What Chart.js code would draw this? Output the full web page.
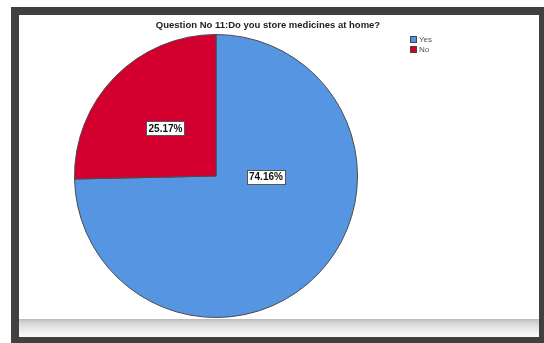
<!DOCTYPE html>
<html>
<head>
<meta charset="utf-8">
<script src="https://cdn.jsdelivr.net/npm/chart.js@4.4.1/dist/chart.umd.min.js"></script>
<style>
  body { margin: 0; background: #fff; }
  #frame { position: absolute; left: 11px; top: 7px; width: 533px; height: 336px; background: #404040; }
  #inner { position: absolute; left: 19px; top: 15px; width: 520px; height: 322px; background: #fff; }
  #shade { position: absolute; left: 0; top: 304px; width: 520px; height: 18px;
    background: linear-gradient(to bottom, #b8b8b8 0%, #cfcfcf 15%, #dedede 35%, #f0f0f0 70%, #fafafa 100%); }
  #wrap { position: absolute; left: 0; top: 0; width: 520px; height: 304px; }
</style>
</head>
<body>
<div id="frame"></div>
<div id="inner">
  <div id="wrap"><canvas id="pie"></canvas></div>
  <div id="shade"></div>
</div>
<script>
const categories = ['Yes', 'No'];
const percents = [74.16, 25.17];
const sliceColors = ['#5595e2', '#d3002f'];
const titleText = 'Question No 11:Do you store medicines at home?';

// draws title, legend and boxed percentage labels
const decor = {
  id: 'decor',
  afterDraw(chart, args, opts) {
    const ctx = chart.ctx;
    ctx.save();
    // title
    ctx.font = 'bold 9.5px "Liberation Sans", Arial, sans-serif';
    ctx.fillStyle = '#222';
    ctx.textAlign = 'center';
    ctx.textBaseline = 'middle';
    ctx.fillText(titleText, 249, 10.5);

    // legend
    ctx.font = '8px "Liberation Sans", Arial, sans-serif';
    ctx.textAlign = 'left';
    categories.forEach((c, i) => {
      const y = 21 + i * 10;
      ctx.fillStyle = sliceColors[i];
      ctx.fillRect(391, y, 7, 7);
      ctx.strokeStyle = '#444';
      ctx.lineWidth = 1;
      ctx.strokeRect(391.5, y + 0.5, 6, 6);
      ctx.fillStyle = '#555';
      ctx.fillText(c, 400, y + 4);
    });

    // labels
    const meta = chart.getDatasetMeta(0);
    ctx.font = 'bold 10px "Liberation Sans", Arial, sans-serif';
    ctx.textAlign = 'center';
    meta.data.forEach((arc, i) => {
      const p = opts.pos[i];
      const x = arc.x + p[0] * arc.outerRadius;
      const y = arc.y + p[1] * arc.outerRadius;
      const txt = percents[i].toFixed(2) + '%';
      const w = Math.round(ctx.measureText(txt).width) + 4;
      const h = 14;
      const bx = Math.round(x - w / 2) + 0.5, by = Math.round(y - h / 2) + 0.5;
      ctx.fillStyle = '#fff';
      ctx.fillRect(bx, by, w, h);
      ctx.strokeStyle = '#555';
      ctx.strokeRect(bx, by, w, h);
      ctx.fillStyle = '#111';
      ctx.fillText(txt, x, y + 1);
    });
    ctx.restore();
  }
};

new Chart(document.getElementById('pie'), {
  type: 'pie',
  data: {
    labels: categories,
    datasets: [{
      data: percents,
      backgroundColor: sliceColors,
      borderColor: '#4a4a4a',
      borderWidth: 1,
      hoverOffset: 0
    }]
  },
  options: {
    responsive: true,
    maintainAspectRatio: false,
    animation: false,
    events: [],
    layout: { padding: { top: 19, bottom: 1, left: 55, right: 181 } },
    plugins: {
      legend: { display: false },
      title: { display: false },
      tooltip: { enabled: false },
      decor: { pos: [[0.353, 0.004], [-0.357, -0.34]] }
    }
  },
  plugins: [decor]
});
</script>
</body>
</html>
